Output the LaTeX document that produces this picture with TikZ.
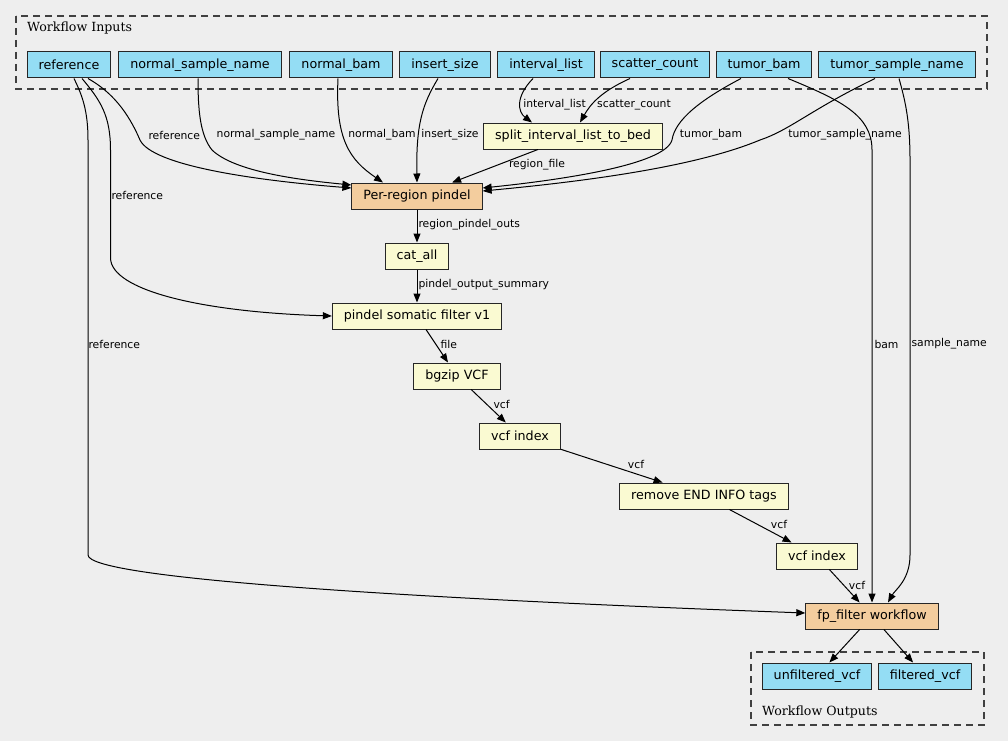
\documentclass[tikz,border=0pt]{standalone}
\usepackage{fontspec}
\setmainfont{DejaVu Sans}
\newfontfamily\titlefont{DejaVu Serif}
\usetikzlibrary{arrows.meta}

\definecolor{bgcol}{HTML}{EEEEEE}
\definecolor{inputcol}{HTML}{94DDF4}
\definecolor{taskcol}{HTML}{FAFAD2}
\definecolor{wfcol}{HTML}{F3CD9E}

\tikzset{
  box/.style={draw=black!85, line width=1pt, minimum height=26pt, inner xsep=11.5pt, inner ysep=0pt, font=\fontsize{12.7}{14}\selectfont},
  inbox/.style={box, fill=inputcol},
  taskbox/.style={box, fill=taskcol},
  wfbox/.style={box, fill=wfcol},
  lbl/.style={font=\fontsize{10.8}{12}\selectfont, inner sep=0pt},
  flow/.style={line width=1pt, -{Triangle[length=9pt,width=7pt]}},
  group/.style={draw=black!75, line width=1.2pt, dash pattern=on 7pt off 5pt},
  grouptitle/.style={font=\titlefont\fontsize{12.6}{14}\selectfont, inner sep=0pt, anchor=base west},
}

\begin{document}
\begin{tikzpicture}[x=1pt,y=-1pt]
\useasboundingbox[fill=bgcol] (0,0) rectangle (1008,741);

% input group
\draw[group] (16,16) rectangle (987,89);
\node[grouptitle] at (27,32) {Workflow Inputs};
\node[inbox] (ref) at (69,65) {reference};
\node[inbox] (nsname) at (200,65) {normal\_sample\_name};
\node[inbox] (nbam) at (341,65) {normal\_bam};
\node[inbox] (isize) at (445,65) {insert\_size};
\node[inbox] (ilist) at (546,65) {interval\_list};
\node[inbox] (scount) at (655,65) {scatter\_count};
\node[inbox] (tbam) at (764,65) {tumor\_bam};
\node[inbox] (tsname) at (897,65) {tumor\_sample\_name};

% steps
\node[taskbox] (split) at (573,136) {split\_interval\_list\_to\_bed};
\node[wfbox] (pindel) at (417,196) {Per-region pindel};
\node[taskbox] (catall) at (417,256) {cat\_all};
\node[taskbox] (somfilt) at (417,316) {pindel somatic filter v1};
\node[taskbox] (bgzip) at (457,376) {bgzip VCF};
\node[taskbox] (vcfidxa) at (520,436) {vcf index};
\node[taskbox] (remend) at (704,496) {remove END INFO tags};
\node[taskbox] (vcfidxb) at (817,556) {vcf index};
\node[wfbox] (fpfilter) at (872,616) {fp\_filter workflow};

% output group
\draw[group] (751,652) rectangle (984,725);
\node[grouptitle] at (762,715.5) {Workflow Outputs};
\node[inbox] (unfvcf) at (817,676) {unfiltered\_vcf};
\node[inbox] (filtvcf) at (925,676) {filtered\_vcf};

% inputs into the pindel step
\draw[flow] ([xshift=19pt]ref.south) .. controls (112,92) and (128,112) .. (140,140)
  .. controls (152,165) and (250,180) .. ([yshift=8pt]pindel.west)
  node[lbl, anchor=west] at (148,135) {reference};
\draw[flow] ([xshift=-2pt]nsname.south) .. controls (198,110) and (200,135) .. (212,150)
  .. controls (235,172) and (300,180) .. ([yshift=11pt]pindel.west)
  node[lbl] at (276,135) {normal\_sample\_name};
\draw[flow] ([xshift=-3pt]nbam.south) .. controls (335,140) and (350,160) .. ([xshift=-34pt]pindel.north)
  node[lbl] at (382,135) {normal\_bam};
\draw[flow] ([xshift=-7pt]isize.south) .. controls (422,105) and (416,125) .. (pindel.north)
  node[lbl] at (450,135) {insert\_size};
\draw[flow] ([xshift=-13pt]ilist.south) .. controls (515,97) and (518,112) .. ([xshift=-41pt]split.north)
  node[lbl] at (554.5,105) {interval\_list};
\draw[flow] ([xshift=-25pt]scount.south) .. controls (600,92) and (590,105) .. ([xshift=7pt]split.north)
  node[lbl] at (634,105) {scatter\_count};
\draw[flow] (split) -- (pindel) node[lbl] at (537,165) {region\_file};
\draw[flow] ([xshift=-23pt]tbam.south) .. controls (700,100) and (675,120) .. (672,140)
  .. controls (665,165) and (560,180) .. ([yshift=8pt]pindel.east)
  node[lbl] at (711,135) {tumor\_bam};
\draw[flow] ([xshift=-22pt]tsname.south) .. controls (810,110) and (790,130) .. (760,140)
  .. controls (700,165) and (600,180) .. ([yshift=5pt]pindel.east)
  node[lbl] at (845,135) {tumor\_sample\_name};

% main chain
\draw[flow] (pindel) -- (catall) node[lbl, anchor=west] at (418,225) {region\_pindel\_outs};
\draw[flow] (catall) -- (somfilt) node[lbl, anchor=west] at (418,285) {pindel\_output\_summary};
\draw[flow] ([xshift=13pt]ref.south) .. controls (100,100) and (110.5,115) .. (110.5,150)
  -- (110.5,258) .. controls (111,290) and (200,312) .. (somfilt.west)
  node[lbl, anchor=west] at (111,195) {reference};
\draw[flow] (somfilt) -- (bgzip) node[lbl, anchor=west] at (440,344) {file};
\draw[flow] (bgzip) -- (vcfidxa) node[lbl, anchor=west] at (493,404) {vcf};
\draw[flow] (vcfidxa) -- (remend) node[lbl] at (636,464) {vcf};
\draw[flow] (remend) -- (vcfidxb) node[lbl] at (779,524) {vcf};
\draw[flow] (vcfidxb) -- (fpfilter) node[lbl] at (857,585) {vcf};

% inputs into fp_filter
\draw[flow] ([xshift=5pt]ref.south) .. controls (82,95) and (88,110) .. (88,140)
  -- (88,555) .. controls (88,580) and (450,600) .. ([yshift=3pt]fpfilter.west)
  node[lbl, anchor=west] at (88,344) {reference};
\draw[flow] ([xshift=24pt]tbam.south) .. controls (840,100) and (872,115) .. (872,150)
  -- (fpfilter.north)
  node[lbl, anchor=west] at (874,344) {bam};
\draw[flow] ([xshift=2pt]tsname.south) .. controls (905,100) and (910,120) .. (910,160)
  -- (910,555) .. controls (910,580) and (895,590) .. ([xshift=16pt]fpfilter.north)
  node[lbl, anchor=west] at (911,344) {sample\_name};

% outputs
\draw[flow] (fpfilter) -- (unfvcf);
\draw[flow] (fpfilter) -- (filtvcf);
\end{tikzpicture}
\end{document}
